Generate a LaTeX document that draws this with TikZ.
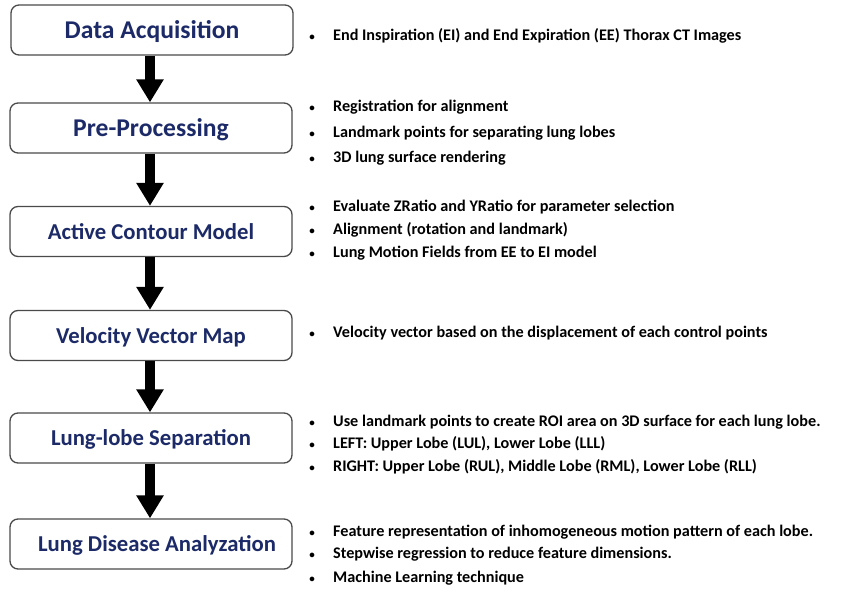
\documentclass[tikz,border=0pt]{standalone}
\usepackage{fontspec}
\setmainfont{Carlito}
\usetikzlibrary{arrows.meta}
\definecolor{navy}{HTML}{1C2A68}
\definecolor{boxline}{HTML}{4A4A4A}
\tikzset{
  stagebox/.style={draw=boxline, line width=1.3pt, rounded corners=8pt, fill=white,
    minimum width=282pt, minimum height=50pt, inner sep=0pt,
    text height=16pt, text depth=0pt,
    font=\fontsize{22.7}{26}\selectfont\bfseries, text=navy},
  bigtext/.style={font=\fontsize{25.6}{29}\selectfont\bfseries, text height=18pt},
  flowarrow/.style={line width=9.5pt, -{Triangle[width=26pt,length=23pt]}, black},
  bul/.style={anchor=base west, inner sep=0pt, font=\fontsize{16.2}{18}\selectfont\bfseries},
  dot/.style={anchor=base, inner sep=0pt, font=\fontsize{11}{13}\selectfont\bfseries}
}
\begin{document}
\begin{tikzpicture}[x=1pt,y=1pt]
\useasboundingbox (0,0) rectangle (868,594);
% boxes
\node[stagebox, bigtext] (b1) at (152,594-30) {Data Acquisition};
\node[stagebox, bigtext] (b2) at (151,594-128) {Pre-Processing};
\node[stagebox] (b3) at (151,594-231.5) {Active Contour Model};
\node[stagebox] (b4) at (151,594-335.5) {Velocity Vector Map};
\node[stagebox] (b5) at (151,594-438) {Lung-lobe Separation};
\node[stagebox] (b6) at (151,594-544) {\hspace*{12pt}Lung Disease Analyzation};
% arrows
\draw[flowarrow] (b1.south -| 150,0) -- (b2.north -| 150,0);
\draw[flowarrow] (b2.south -| 150,0) -- (b3.north -| 150,0);
\draw[flowarrow] (b3.south -| 150,0) -- (b4.north -| 150,0);
\draw[flowarrow] (b4.south -| 150,0) -- (b5.north -| 150,0);
\draw[flowarrow] (b5.south -| 150,0) -- (b6.north -| 150,0);
% bullets
\foreach \yy/\txt [count=\i] in {
  41/{End Inspiration (EI) and End Expiration (EE) Thorax CT Images},
  112/{Registration for alignment},
  138/{Landmark points for separating lung lobes},
  163/{3D lung surface rendering},
  212/{Evaluate ZRatio and YRatio for parameter selection},
  235/{Alignment (rotation and landmark)},
  258/{Lung Motion Fields from EE to EI model},
  338/{Velocity vector based on the displacement of each control points},
  427/{Use landmark points to create ROI area on 3D surface for each lung lobe.},
  449/{LEFT: Upper Lobe (LUL), Lower Lobe (LLL)},
  472/{RIGHT: Upper Lobe (RUL), Middle Lobe (RML), Lower Lobe (RLL)},
  537/{Feature representation of inhomogeneous motion pattern of each lobe.},
  559/{Stepwise regression to reduce feature dimensions.},
  583/{Machine Learning technique}}{
  \node[dot] (d\i) at (312,594-\yy) {•};
  \node[bul] (t\i) at (333,594-\yy) {\txt};
}
\end{tikzpicture}
\end{document}
